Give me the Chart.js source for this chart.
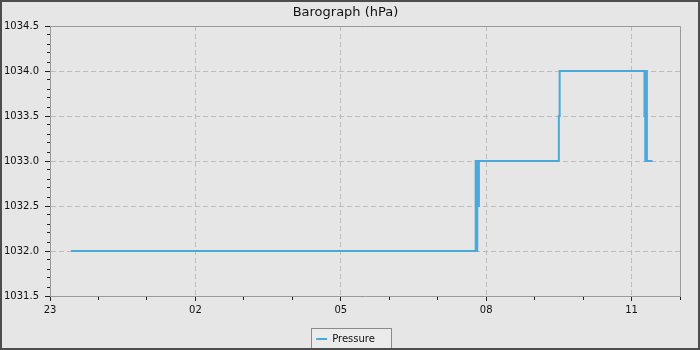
<!DOCTYPE html>
<html>
    <head>
        <meta charset="utf-8">
        <script src="https://cdn.jsdelivr.net/npm/chart.js"></script>
        <style>
            body {
                margin: 0;
                background-color: #e6e6e6;
            }
            .frame {
                position: relative;
                width: 700px;
                height: 350px;
                box-sizing: border-box;
                border: 2px solid #4d4d4d;
                background-color: #e6e6e6;
            }
            .frame div {
                position: relative;
                width: 696px;
                height: 346px;
            }
        </style>
    </head>
    <body>
        <div class="frame"><div><canvas id="baro"></canvas></div></div>

        <script>
            // readings (local time) and pressure in hPa
            const times = ['23:26', '07:47', '07:48', '07:49', '07:50', '07:51', '09:30', '09:31', '11:16', '11:17', '11:18', '11:19', '11:26'];
            const pressure = [1032, 1033, 1032, 1033, 1032.5, 1033, 1033.5, 1034, 1033.5, 1033, 1034, 1033, 1033];

            const startHour = 23;   // x axis starts at 23:00
            const hourSpan = 13;    // ... and runs to 12:00
            const yMin = 1031.5;
            const yMax = 1034.5;

            function hoursFromStart(t) {
                const [h, m] = t.split(':').map(Number);
                return ((h - startHour + 24) % 24) + m / 60;
            }

            const points = times.map((t, i) => ({ x: hoursFromStart(t), y: pressure[i] }));

            const isMajorY = v => Math.abs(v * 2 - Math.round(v * 2)) < 1e-6;
            const isMajorX = v => Math.round(v) % 3 === 0;

            const font = { family: 'DejaVu Sans', size: 10 };

            // top / right edges of the plot and the box round the legend
            const framePlugin = {
                id: 'frame',
                beforeDraw(chart) {
                    const ctx = chart.ctx;
                    const hb = chart.legend && chart.legend.legendHitBoxes[0];
                    if (hb) {
                        ctx.save();
                        ctx.fillStyle = '#ebebeb';
                        ctx.strokeStyle = '#8a8a8a';
                        ctx.lineWidth = 1;
                        const l = Math.round(hb.left - 5) + 0.5;
                        const t = Math.round(hb.top - 6) + 0.5;
                        const w = Math.round(hb.width + 21);
                        ctx.fillRect(l, t, w, 20);
                        ctx.strokeRect(l, t, w, 20);
                        ctx.restore();
                    }
                },
                beforeDatasetsDraw(chart) {
                    const { ctx, chartArea: a } = chart;
                    ctx.save();
                    ctx.strokeStyle = '#9a9a9a';
                    ctx.lineWidth = 1;
                    ctx.beginPath();
                    ctx.moveTo(a.left, Math.round(a.top) + 0.5);
                    ctx.lineTo(Math.round(a.right) + 0.5, Math.round(a.top) + 0.5);
                    ctx.lineTo(Math.round(a.right) + 0.5, a.bottom);
                    ctx.stroke();
                    ctx.restore();
                }
            };

            new Chart(document.getElementById('baro'), {
                type: 'line',
                data: {
                    datasets: [{
                        label: 'Pressure',
                        data: points,
                        borderColor: '#4aa8da',
                        backgroundColor: '#4aa8da',
                        borderWidth: 2,
                        pointRadius: 0,
                        stepped: true,
                        fill: false
                    }]
                },
                options: {
                    responsive: true,
                    maintainAspectRatio: false,
                    animation: false,
                    layout: { padding: { left: 0, right: 9, top: 0, bottom: -6 } },
                    plugins: {
                        title: {
                            display: true,
                            text: 'Barograph (hPa)',
                            color: '#111',
                            font: { family: 'DejaVu Sans', size: 13, weight: 'normal' },
                            padding: { top: 2.5, bottom: 5.9 }
                        },
                        legend: {
                            position: 'bottom',
                            labels: {
                                color: '#111',
                                font: font,
                                usePointStyle: true,
                                pointStyle: 'line',
                                pointStyleWidth: 11,
                                padding: 4
                            }
                        },
                        tooltip: { enabled: false }
                    },
                    scales: {
                        x: {
                            type: 'linear',
                            min: 0,
                            max: hourSpan,
                            afterFit: s => { s.height = 34; },
                            ticks: {
                                stepSize: 1,
                                autoSkip: false,
                                maxRotation: 0,
                                padding: 3,
                                color: '#111',
                                font: font,
                                callback: v => isMajorX(v) ? String((startHour + v) % 24).padStart(2, '0') : ''
                            },
                            grid: {
                                color: c => isMajorX(c.tick.value) && c.tick.value > 0 ? '#bdbdbd' : 'transparent',
                                tickLength: 5,
                                tickColor: '#222',
                                tickBorderDash: c => isMajorX(c.tick.value) ? [] : [3, 100]
                            },
                            border: { color: '#9a9a9a', dash: [5, 3] }
                        },
                        y: {
                            min: yMin,
                            max: yMax,
                            afterFit: s => { s.width = 48; },
                            ticks: {
                                stepSize: 0.1,
                                autoSkip: false,
                                padding: 6,
                                color: '#111',
                                font: font,
                                callback: v => isMajorY(v) ? v.toFixed(1) : ''
                            },
                            grid: {
                                color: c => isMajorY(c.tick.value) && c.tick.value > yMin && c.tick.value < yMax ? '#bdbdbd' : 'transparent',
                                tickLength: 5,
                                tickColor: '#222',
                                tickBorderDash: c => isMajorY(c.tick.value) ? [] : [0, 2, 3, 100]
                            },
                            border: { color: '#9a9a9a', dash: [5, 3] }
                        },
                        // empty strip on the right of the plot
                        yRight: {
                            position: 'right',
                            min: yMin,
                            max: yMax,
                            afterFit: s => { s.width = 9; },
                            ticks: { display: false },
                            grid: { display: false },
                            border: { display: false }
                        }
                    }
                },
                plugins: [framePlugin]
            });
        </script>
    </body>
</html>
